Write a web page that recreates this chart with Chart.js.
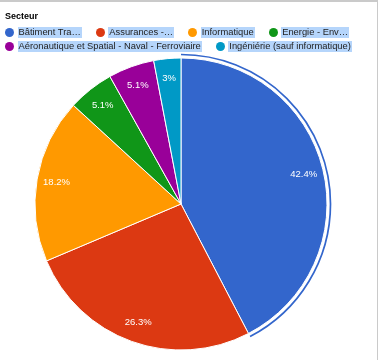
<!DOCTYPE html>
<html><head><meta charset="utf-8">
<script src="https://cdn.jsdelivr.net/npm/chart.js@4"></script>
<style>
html,body{margin:0;padding:0;background:#fff;}
#wrap{position:relative;width:379px;height:360px;overflow:hidden;font-family:"Liberation Sans",Arial,sans-serif;}
#frame{position:absolute;left:0;top:0;width:378px;height:362px;border-top:2px solid #cacaca;border-right:1px solid #cacaca;box-sizing:border-box;pointer-events:none;z-index:3;}
#c{position:absolute;left:0;top:0;}
#title{position:absolute;left:5px;top:11px;font-size:9px;font-weight:bold;line-height:11px;color:#000;z-index:2;}
#legend{position:absolute;left:5px;top:27.2px;width:372px;display:flex;flex-wrap:wrap;row-gap:3.3px;z-index:2;}
.item{display:flex;align-items:center;height:11px;margin-right:14px;font-size:9.35px;line-height:11px;color:#222;white-space:nowrap;}
.dot{width:9px;height:9px;border-radius:50%;margin-right:3.5px;flex:none;}
.txt{background:#b5d5fb;padding:0 1px;}
</style></head>
<body><div id="wrap">
<canvas id="c" width="379" height="360"></canvas>
<div id="title"></div>
<div id="legend"></div>
<div id="frame"></div>
</div>
<script>
const legendTitle = "Secteur";
const categories = ["Bâtiment Tra…", "Assurances -…", "Informatique", "Energie - Env…", "Aéronautique et Spatial - Naval - Ferroviaire", "Ingéniérie (sauf informatique)"];
const shares = [42.4, 26.3, 18.2, 5.1, 5.1, 3];
const colors = ["#3366cc", "#dc3912", "#ff9900", "#109618", "#990099", "#0099c6"];
const selectedIndex = 0;

document.getElementById('title').textContent = legendTitle;
const leg = document.getElementById('legend');
categories.forEach((c, i) => {
  const it = document.createElement('div'); it.className = 'item';
  const d = document.createElement('span'); d.className = 'dot'; d.style.background = colors[i];
  const t = document.createElement('span'); t.className = 'txt'; t.textContent = c;
  it.appendChild(d); it.appendChild(t); leg.appendChild(it);
});

const sliceLabels = {
  id: 'sliceLabels',
  afterDatasetsDraw(chart) {
    const ctx = chart.ctx;
    const meta = chart.getDatasetMeta(0);
    ctx.save();
    const sel = meta.data[selectedIndex];
    ctx.beginPath();
    ctx.arc(sel.x, sel.y, sel.outerRadius + 3.5, sel.startAngle, sel.endAngle);
    ctx.strokeStyle = colors[selectedIndex];
    ctx.lineWidth = 1.7;
    ctx.stroke();
    ctx.font = '9.5px "Liberation Sans", Arial, sans-serif';
    ctx.fillStyle = '#fff';
    ctx.textAlign = 'center';
    ctx.textBaseline = 'middle';
    meta.data.forEach((a, i) => {
      const mid = (a.startAngle + a.endAngle) / 2;
      const rr = a.outerRadius * 0.865;
      ctx.fillText(shares[i] + '%', a.x + Math.cos(mid) * rr, a.y + Math.sin(mid) * rr);
    });
    ctx.restore();
  }
};

new Chart(document.getElementById('c'), {
  type: 'pie',
  data: {
    labels: categories,
    datasets: [{
      data: shares,
      backgroundColor: colors,
      borderColor: '#ffffff',
      borderWidth: 1
    }]
  },
  options: {
    responsive: false,
    animation: false,
    layout: { padding: { left: 34.5, right: 51.5, top: 57.5, bottom: 9.5 } },
    plugins: { legend: { display: false }, tooltip: { enabled: false } }
  },
  plugins: [sliceLabels]
});
</script>
</body></html>
